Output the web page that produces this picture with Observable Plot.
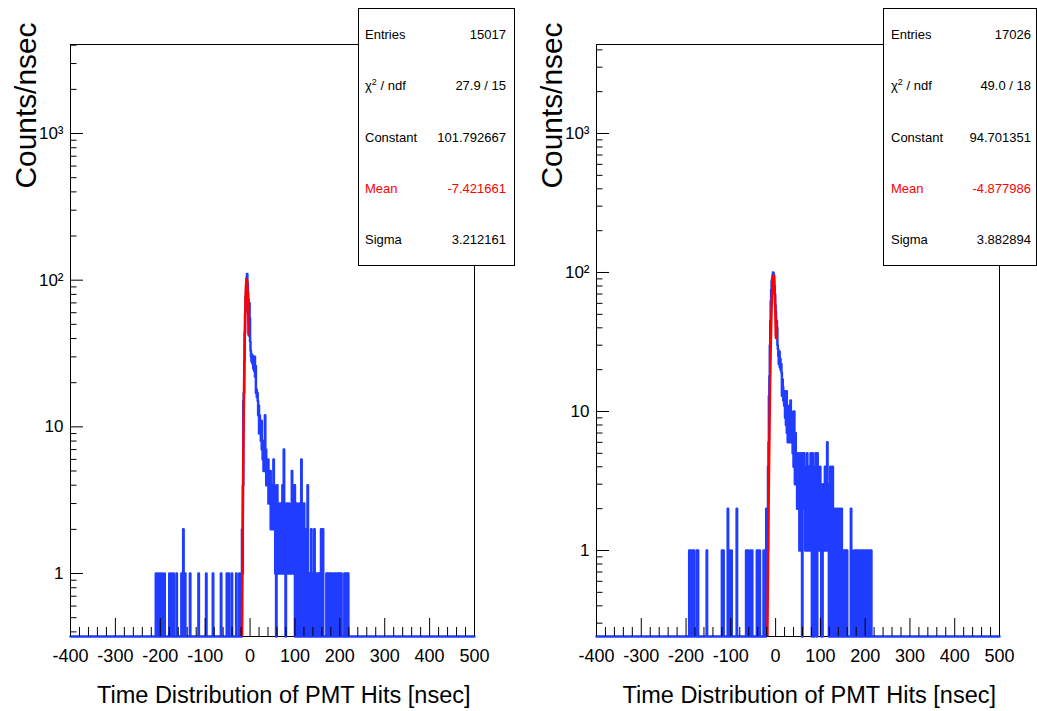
<!DOCTYPE html>
<html><head><meta charset="utf-8">
<script src="https://cdn.jsdelivr.net/npm/d3@7"></script>
<script src="https://cdn.jsdelivr.net/npm/@observablehq/plot@0.6"></script>
<style>
body{margin:0;background:#fff;}
#wrap{position:relative;width:1037px;height:711px;overflow:hidden;font-family:"Liberation Sans",Arial,Helvetica,sans-serif;}
.panel{position:absolute;top:0;}
.stats{position:absolute;top:8px;height:258px;background:#fff;border:1px solid #000;box-sizing:border-box;font-size:13px;display:flex;flex-direction:column;color:#000;}
.row{flex:1;display:flex;justify-content:space-between;align-items:center;}
.row sup{font-size:9px;line-height:0;}
.red{color:#ff0000;}
</style></head>
<body><div id="wrap"></div>
<script>
// ---------------- data ----------------
const xTickValues = [-400,-300,-200,-100,0,100,200,300,400,500];
const yTickValues = [1,10,100,1000];
const yTickLabels = ["1","10","10\u00B2","10\u00B3"];
const xTitle = "Time Distribution of PMT Hits [nsec]";
const yTitle = "Counts/nsec";

// left histogram: 1 ns bins, dense region starting at -18 ns
const leftDenseStart = -18;
const leftDense = [2,1,4,15,17,28,44,60,78,90,104,110,96,82,74,42,70,55,38,33,
  30,28,31,27,29,25,30,24,30,22,26,17,18,16,17,15,12,14,9,12,
  10,9,8,11,7,8,6,8,5,7,6,12,5,7,4,6,5,4,6,3,
  5,4,3,5,2,4,3,4,2,3,6,2,4,3,1,3,0,2,4,1,
  3,2,1,3,2,1,3,3,2,1,4,2,1,7,1,3,2,0,2,1,
  3,1,2,1,3,2,1,2,2,1,3,5,4,2,1,2,1,4,0,2,
  1,3,0,1,2,0,1,3,1,2,0,1,6,2,1,0,2,1,3,1,
  0,2,1,0,1,2,4,1,0];
const leftSparse = [[-210,1],[-206,1],[-201,1],[-197,1],[-191,1],[-180,1],[-176,1],[-171,1],[-164,1],
  [-153,1],[-149,2],[-145,1],[-134,1],[-115,1],[-98,1],[-83,1],[-65,1],[-52,1],[-48,1],[-41,1],
  [-31,1],[-24,1],[-20,1],
  [132,1],[136,2],[137,1],[139,1],[141,1],[143,2],[145,1],[147,1],[151,1],[153,1],[155,1],[158,2],
  [160,1],[162,2],[170,1],[172,1],[175,1],[177,1],[180,1],[183,1],[188,1],[190,1],[193,1],[196,1],
  [198,1],[201,1],[203,1],[210,1],[213,1],[216,1],[218,1]];
const leftFit = {constant:101.792667, mean:-7.421661, sigma:3.212161};
const leftFitRange = [-25,-3.2];
const leftStats = [["Entries","15017"],["\u03C7<sup>2</sup> / ndf","27.9 / 15"],["Constant","101.792667"],["Mean","-7.421661"],["Sigma","3.212161"]];

// right histogram
const rightDenseStart = -21;
const rightDense = [2,1,2,1,4,6,13,18,30,45,62,75,87,90,96,100,98,95,80,70,
  58,52,35,45,40,30,28,25,22,27,21,24,20,22,19,13,17,15,12,13,
  11,14,9,12,8,14,7,11,6,10,8,11,6,10,12,7,10,6,8,5,
  9,4,10,6,3,7,4,3,5,2,4,5,2,4,1,3,5,2,4,1,
  0,5,2,3,5,2,4,1,3,2,4,5,1,3,2,4,1,2,3,5,
  1,3,0,5,2,1,3,0,2,4,5,1,3,0,5,2,1,3,1,2,
  4,1,3,0,1,0,2,3,1,2,1,4,2,1,3,1,6,2,1,3,
  0,2,1,4,1,0,2,1,4,0,1,2];
const rightSparse = [[-193,1],[-190,1],[-186,1],[-183,1],[-176,1],[-174,1],[-154,1],[-120,1],[-117,1],
  [-107,2],[-104,1],[-99,1],[-87,2],[-66,1],[-63,1],[-58,1],[-53,1],[-42,1],[-39,1],[-36,1],
  [-27,1],[-24,1],
  [132,1],[134,2],[136,1],[138,2],[141,1],[143,2],[145,1],[147,2],[149,1],[152,1],[154,1],[157,1],
  [159,1],[168,2],[170,1],[176,1],[178,1],[181,1],[184,1],[187,1],[191,1],[194,1],[197,1],[201,1],
  [203,1],[206,1],[210,1],[213,1]];
const rightFit = {constant:94.701351, mean:-4.877986, sigma:3.882894};
const rightFitRange = [-25,0.7];
const rightStats = [["Entries","17026"],["\u03C7<sup>2</sup> / ndf","49.0 / 18"],["Constant","94.701351"],["Mean","-4.877986"],["Sigma","3.882894"]];

// ---------------- drawing ----------------
const W = 518, H = 711, MT = 44, MB = 75;
const xMinor = d3.range(-400, 501, 20).filter(v => v % 100 !== 0);

function yMinorTicks(dom) {
  const out = [];
  for (let k = -2; k <= 4; k++) for (let m = 2; m <= 9; m++) {
    const v = m * Math.pow(10, k);
    if (v > dom[0] && v < dom[1]) out.push(v);
  }
  return out;
}

function makePanel(o) {
  const counts = new Map();
  o.dense.forEach((v, i) => counts.set(o.denseStart + i, v));
  o.sparse.forEach(([x, v]) => counts.set(x, v));
  const edges = d3.range(-400, 501, 1);
  const hist = edges.map(e => ({x: e, y: Math.max(counts.get(e === 500 ? 499 : e) ?? 0, o.yDomain[0])}));
  const f = o.fit;
  const fitPts = d3.range(o.fitRange[0], o.fitRange[1] + 1e-9, 0.05).map(x => ({x, y: f.constant * Math.exp(-0.5 * ((x - f.mean) / f.sigma) ** 2)}));
  const plotH = H - MT - MB, plotW = W - o.marginLeft - o.marginRight;
  const fmt = d => yTickLabels[yTickValues.indexOf(d)];
  const svg = Plot.plot({
    width: W, height: H, marginTop: MT, marginBottom: MB, marginLeft: o.marginLeft, marginRight: o.marginRight,
    x: {domain: [-400, 500]},
    y: {type: "log", domain: o.yDomain},
    style: {fontFamily: '"Liberation Sans", Arial, Helvetica, sans-serif', background: "#fff", color: "#000", overflow: "visible"},
    marks: [
      Plot.frame({stroke: "#000"}),
      Plot.line(hist, {x: "x", y: "y", curve: "step-after", stroke: "#1f3cff", strokeWidth: 2.5}),
      Plot.line(fitPts, {x: "x", y: "y", stroke: "#ff0000", strokeWidth: 2.5, clip: true}),
      Plot.tickX(xMinor, {x: d => d, stroke: "#000", insetTop: plotH - 9}),
      Plot.tickX(xTickValues, {x: d => d, stroke: "#000", insetTop: plotH - 18}),
      Plot.tickY(yMinorTicks(o.yDomain), {y: d => d, stroke: "#000", insetRight: plotW - 6.5}),
      Plot.tickY(yTickValues, {y: d => d, stroke: "#000", insetRight: plotW - 13}),
      Plot.axisX(xTickValues, {tickSize: 0, tickPadding: 13, fontSize: 18, label: null, tickFormat: d => String(d)}),
      Plot.axisY(yTickValues, {tickSize: 0, tickPadding: 7, fontSize: 17, label: null, tickFormat: fmt}),
      Plot.text([xTitle], {frameAnchor: "bottom-right", dx: o.xTitleDx, dy: 66, textAnchor: "end", lineAnchor: "bottom", fontSize: 23.5}),
      Plot.text([yTitle], {frameAnchor: "top-left", rotate: -90, dx: o.yTitleDx, dy: -22, textAnchor: "end", lineAnchor: "bottom", fontSize: 29, className: "ytitle"})
    ]
  });
  svg.querySelectorAll(".ytitle text").forEach(t => { t.setAttribute("textLength", 166); t.setAttribute("lengthAdjust", "spacingAndGlyphs"); });
  svg.classList.add("panel");
  svg.style.left = o.left + "px";
  return svg;
}

function makeStats(rows, left, width, padL, padR) {
  const div = document.createElement("div");
  div.className = "stats";
  div.style.left = left + "px";
  div.style.width = width + "px";
  div.style.paddingLeft = padL + "px";
  div.style.paddingRight = padR + "px";
  rows.forEach(([k, v]) => {
    const r = document.createElement("div");
    r.className = "row" + (k === "Mean" ? " red" : "");
    r.innerHTML = `<span>${k}</span><span>${v}</span>`;
    div.appendChild(r);
  });
  return div;
}

const wrap = document.getElementById("wrap");
wrap.appendChild(makePanel({dense: leftDense, denseStart: leftDenseStart, sparse: leftSparse, fit: leftFit, fitRange: leftFitRange,
  yDomain: [0.372, 4045], marginLeft: 70, marginRight: 44, left: 0, xTitleDx: -4, yTitleDx: -35}));
wrap.appendChild(makePanel({dense: rightDense, denseStart: rightDenseStart, sparse: rightSparse, fit: rightFit, fitRange: rightFitRange,
  yDomain: [0.2406, 4368], marginLeft: 77, marginRight: 38, left: 519, xTitleDx: -3.5, yTitleDx: -35}));
wrap.appendChild(makeStats(leftStats, 358, 157, 6, 8));
wrap.appendChild(makeStats(rightStats, 883, 154, 7, 5));
</script></body></html>
